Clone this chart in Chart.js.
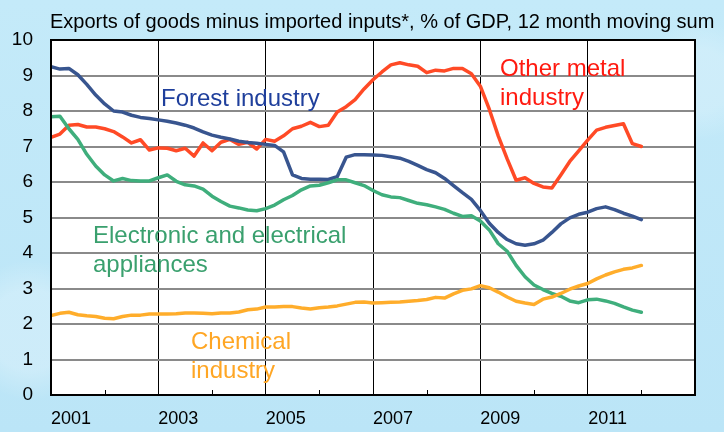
<!DOCTYPE html>
<html>
<head>
<meta charset="utf-8">
<script src="https://cdn.jsdelivr.net/npm/chart.js@4"></script>
<style>
  html, body { margin:0; padding:0; }
  body {
    width:724px; height:432px; overflow:hidden;
    background:
      radial-gradient(circle at 30px 330px, rgba(255,255,255,.25) 0 40px, transparent 70px),
      radial-gradient(circle at 700px 80px, rgba(255,255,255,.2) 0 30px, transparent 60px),
      linear-gradient(180deg, #c4eaf9 0%, #bbe5f7 100%);
  }
  #wrap { position:relative; width:724px; height:432px; }
  canvas { display:block; }
</style>
</head>
<body>
<div id="wrap"><canvas id="ch" width="724" height="432"></canvas></div>
<script>
// bi-monthly points, Jan 2001 .. Jan 2012
const startYear = 2001;
const stepYears = 2 / 12;

const forest = [9.25,9.18,9.2,9.02,8.75,8.45,8.2,8.0,7.97,7.88,7.82,7.79,7.75,7.71,7.66,7.6,7.52,7.41,7.32,7.26,7.21,7.15,7.11,7.09,7.06,7.03,6.85,6.2,6.1,6.08,6.08,6.07,6.15,6.7,6.77,6.77,6.76,6.75,6.71,6.67,6.58,6.47,6.35,6.26,6.1,5.9,5.7,5.51,5.2,4.84,4.58,4.38,4.26,4.22,4.26,4.36,4.58,4.82,4.99,5.09,5.15,5.25,5.3,5.22,5.12,5.04,4.94];
const metal = [7.26,7.35,7.6,7.62,7.55,7.55,7.5,7.42,7.27,7.1,7.19,6.9,6.96,6.95,6.88,6.95,6.73,7.1,6.88,7.12,7.2,7.06,7.12,6.93,7.2,7.15,7.3,7.5,7.57,7.68,7.56,7.6,7.97,8.12,8.32,8.62,8.88,9.1,9.3,9.36,9.3,9.26,9.08,9.15,9.13,9.2,9.2,9.05,8.7,8.05,7.3,6.65,6.05,6.12,5.96,5.86,5.83,6.2,6.58,6.88,7.18,7.46,7.54,7.59,7.64,7.08,7.0];
const electronic = [7.84,7.85,7.5,7.2,6.78,6.45,6.2,6.03,6.1,6.04,6.03,6.03,6.12,6.2,6.02,5.92,5.89,5.8,5.6,5.45,5.32,5.27,5.21,5.19,5.25,5.35,5.5,5.62,5.78,5.89,5.91,5.98,6.06,6.06,5.98,5.9,5.76,5.64,5.58,5.56,5.48,5.4,5.36,5.3,5.23,5.12,5.03,5.05,4.9,4.65,4.26,4.05,3.65,3.33,3.1,2.97,2.86,2.78,2.65,2.6,2.68,2.7,2.65,2.58,2.48,2.39,2.33];
const chemical = [2.24,2.3,2.33,2.26,2.23,2.21,2.16,2.15,2.21,2.25,2.25,2.28,2.28,2.28,2.29,2.31,2.31,2.3,2.29,2.31,2.31,2.34,2.4,2.42,2.48,2.48,2.49,2.49,2.45,2.42,2.46,2.48,2.51,2.56,2.61,2.62,2.59,2.6,2.61,2.62,2.64,2.66,2.69,2.75,2.73,2.85,2.95,2.99,3.08,3.02,2.9,2.76,2.64,2.59,2.55,2.7,2.76,2.86,2.98,3.07,3.14,3.27,3.38,3.47,3.54,3.58,3.65];

const yearLabels = [2001, 2003, 2005, 2007, 2009, 2011];
const minorTicks = [2002, 2004, 2006, 2008, 2010, 2012];

const pts = arr => arr.map((v, i) => ({ x: startYear + i * stepYears, y: v }));

const FONT = "'Liberation Sans', Arial, sans-serif";

const decor = {
  id: 'decor',
  beforeDraw(chart) {
    const { ctx, chartArea: a } = chart;
    ctx.save();
    ctx.fillStyle = '#fff';
    ctx.fillRect(a.left, a.top, a.right - a.left, a.bottom - a.top);
    ctx.restore();
  },
  afterDatasetsDraw(chart) {
    const { ctx, chartArea: a, scales } = chart;
    ctx.save();
    // minor ticks on the bottom axis
    ctx.strokeStyle = '#000';
    ctx.lineWidth = 1;
    minorTicks.forEach(yr => {
      const x = Math.round(scales.x.getPixelForValue(yr)) + 0.5;
      ctx.beginPath(); ctx.moveTo(x, a.bottom); ctx.lineTo(x, a.bottom - 5); ctx.stroke();
    });
    // frame
    ctx.lineWidth = 2;
    ctx.strokeRect(a.left, a.top, a.right - a.left, a.bottom - a.top);

    // title
    ctx.fillStyle = '#000';
    ctx.font = '20px ' + FONT;
    ctx.textBaseline = 'alphabetic';
    ctx.fillText('Exports of goods minus imported inputs*, % of GDP, 12 month moving sum', 50, 28);

    // series names
    ctx.font = '24px ' + FONT;
    ctx.fillStyle = '#1f3f9c';
    ctx.fillText('Forest industry', 161, 106);
    ctx.fillStyle = '#ff1a10';
    ctx.fillText('Other metal', 500, 76);
    ctx.fillText('industry', 500, 105);
    ctx.fillStyle = '#3aa06e';
    ctx.fillText('Electronic and electrical', 93, 243);
    ctx.fillText('appliances', 93, 272);
    ctx.fillStyle = '#ffa624';
    ctx.fillText('Chemical', 191, 349);
    ctx.fillText('industry', 191, 378);
    ctx.restore();
  }
};

const line = (data, color) => ({
  data: pts(data), borderColor: color, borderWidth: 3.5, pointRadius: 0,
  tension: 0, fill: false, borderJoinStyle: 'round', borderCapStyle: 'round'
});

new Chart(document.getElementById('ch').getContext('2d'), {
  type: 'line',
  data: {
    datasets: [
      line(chemical, '#ffad2b'),
      line(electronic, '#3fae7c'),
      line(forest, '#38558f'),
      line(metal, '#ff4a26')
    ]
  },
  options: {
    responsive: false, animation: false, devicePixelRatio: 1,
    layout: { padding: { top: 40, right: 29, left: 0, bottom: 0 } },
    plugins: { legend: { display: false }, tooltip: { enabled: false } },
    scales: {
      x: {
        type: 'linear', min: 2001, max: 2013,
        afterFit: s => { s.height = 37; },
        border: { display: false },
        grid: {
          drawTicks: false, lineWidth: 1,
          color: c => (yearLabels.includes(c.tick.value) ? '#000' : 'rgba(0,0,0,0)')
        },
        ticks: {
          stepSize: 1, autoSkip: false, maxRotation: 0, padding: 13, labelOffset: 20,
          color: '#000', font: { family: FONT, size: 18 },
          callback: v => (yearLabels.includes(v) ? String(v) : '')
        }
      },
      y: {
        min: 0, max: 10,
        afterFit: s => { s.width = 51; },
        border: { display: false },
        grid: { drawTicks: false, color: '#8a8a8a', lineWidth: 2 },
        ticks: { stepSize: 1, padding: 18, color: '#000', font: { family: FONT, size: 19 } }
      }
    }
  },
  plugins: [decor]
});
</script>
</body>
</html>
